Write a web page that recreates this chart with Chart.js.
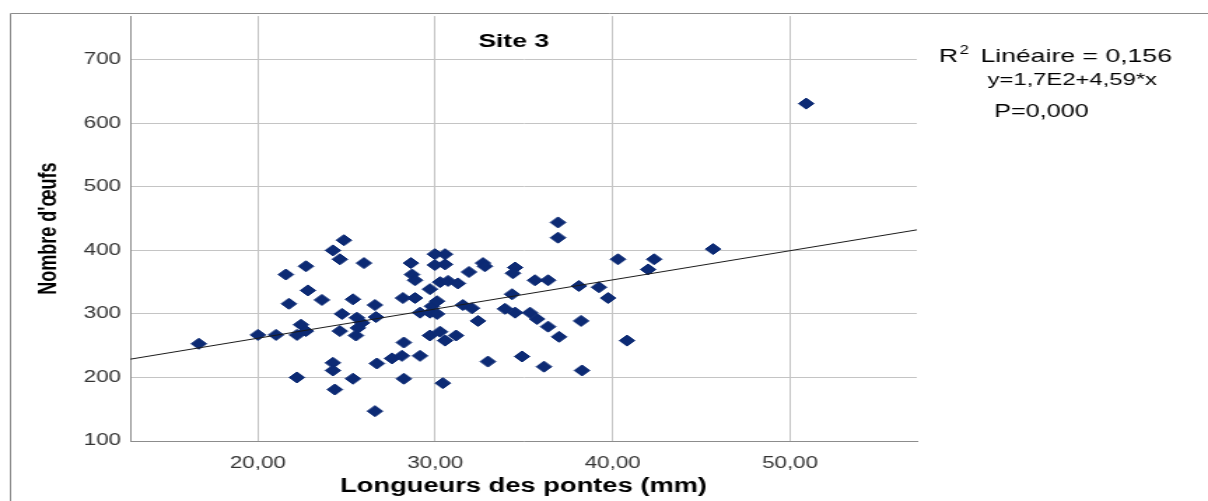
<!DOCTYPE html>
<html lang="fr">
<head>
    <meta charset="UTF-8">
    <title>Site 3</title>
    <script src="https://cdn.jsdelivr.net/npm/chart.js"></script>
    <style>
        html, body {
            margin: 0;
            padding: 0;
            background: #ffffff;
            overflow: hidden;
        }
        /* the plot is exported wide: draw at 863px and stretch to 1208px */
        #wrap {
            width: 863px;
            height: 501px;
            transform: scaleX(1.39977);
            transform-origin: 0 0;
        }
    </style>
</head>
<body>
    <div id="wrap">
        <canvas id="scatterChart" width="863" height="501"></canvas>
    </div>
<script>
    // longueur des pontes (mm) / nombre d'oeufs, site 3
    var longueurs = [
        16.67, 20.00, 21.02, 21.58, 21.75, 22.20, 22.20, 22.43, 22.71, 22.71,
        22.82, 23.61, 24.23, 24.62, 24.85, 25.98, 25.36, 26.60, 24.74, 25.58,
        25.87, 26.66, 24.62, 25.64, 25.53, 24.23, 24.23, 25.36, 24.34, 26.71,
        26.60, 28.23, 27.56, 28.12, 29.14, 28.23, 28.63, 28.69, 28.86, 28.18,
        28.86, 29.14, 29.70, 29.98, 30.55, 29.98, 30.55, 30.27, 30.72, 31.28,
        29.81, 30.10, 29.70, 30.10, 29.70, 30.27, 30.55, 31.17, 30.43, 31.90,
        32.69, 32.80, 34.50, 34.38, 31.56, 32.07, 32.41, 33.93, 34.50, 34.33,
        32.97, 34.89, 36.92, 36.92, 40.30, 35.62, 36.36, 38.10, 39.23, 39.74,
        35.34, 35.74, 36.36, 36.98, 38.22, 36.13, 38.27, 40.81, 42.34, 42.00,
        45.66, 50.91
    ];
    var oeufs = [
        253, 267, 267, 362, 316, 200, 267, 283, 273, 375,
        337, 322, 400, 386, 416, 380, 323, 314, 300, 294,
        286, 295, 273, 278, 266, 223, 211, 198, 181, 222,
        147, 255, 230, 234, 234, 198, 380, 362, 353, 325,
        325, 302, 339, 394, 394, 377, 378, 350, 352, 348,
        312, 320, 302, 300, 266, 272, 258, 266, 191, 366,
        380, 375, 373, 364, 314, 309, 289, 308, 302, 331,
        225, 233, 444, 420, 386, 353, 353, 344, 342, 325,
        302, 292, 280, 264, 289, 217, 211, 258, 386, 370,
        402, 631
    ];

    var xTicks = [20, 30, 40, 50];
    var yTicks = [100, 200, 300, 400, 500, 600, 700];
    var xMin = 12.8, xMax = 57.15;
    var yMin = 100, yMax = 768.75;

    // droite de regression : y = 1,7E2 + 4,59 * x
    var intercept = 170;
    var slope = 4.59;

    var titre = 'Site 3';
    var r2Text = ' Linéaire = 0,156';
    var equationText = 'y=1,7E2+4,59*x';
    var pText = 'P=0,000';

    var fontFamily = "'Liberation Sans', Arial, sans-serif";

    document.addEventListener('DOMContentLoaded', function () {
        generateScatter();
    });

    function generateScatter() {
        var points = longueurs.map(function (x, i) {
            return { x: x, y: oeufs[i] };
        });
        var fitLine = [
            { x: xMin, y: intercept + slope * xMin },
            { x: xMax, y: intercept + slope * xMax }
        ];

        var framePlugin = {
            id: 'framePlugin',
            beforeDraw: function (chart) {
                var ctx = chart.ctx;
                ctx.save();
                ctx.strokeStyle = '#8c8c8c';
                ctx.lineWidth = 1;
                ctx.beginPath();
                ctx.moveTo(7.5, chart.height);
                ctx.lineTo(7.5, 13.5);
                ctx.lineTo(chart.width, 13.5);
                ctx.stroke();
                ctx.restore();
            },
            afterDraw: function (chart) {
                var ctx = chart.ctx;
                ctx.save();
                ctx.fillStyle = '#000000';
                ctx.textBaseline = 'alphabetic';

                ctx.textAlign = 'center';
                ctx.font = 'bold 19px ' + fontFamily;
                ctx.fillText(titre, 367, 47);

                // R² line, superscript drawn separately
                ctx.textAlign = 'left';
                ctx.font = '19px ' + fontFamily;
                var wR = ctx.measureText('R').width;
                var wRest = ctx.measureText(r2Text).width;
                ctx.font = '12px ' + fontFamily;
                var wSup = ctx.measureText('2').width;
                var x0 = 754 - (wR + wSup + 4 + wRest) / 2;
                ctx.font = '19px ' + fontFamily;
                ctx.fillText('R', x0, 62);
                ctx.font = '12px ' + fontFamily;
                ctx.fillText('2', x0 + wR + 1, 54);
                ctx.font = '19px ' + fontFamily;
                ctx.fillText(r2Text, x0 + wR + wSup + 4, 62);

                ctx.textAlign = 'center';
                ctx.font = '17px ' + fontFamily;
                ctx.fillText(equationText, 766, 85);
                ctx.font = '18px ' + fontFamily;
                ctx.fillText(pText, 744, 117);
                ctx.restore();
            }
        };

        var ctx = document.getElementById('scatterChart').getContext('2d');
        Chart.defaults.font.family = fontFamily;
        Chart.defaults.color = '#333333';

        window.myChart = new Chart(ctx, {
            type: 'scatter',
            data: {
                datasets: [{
                    type: 'line',
                    label: 'Linéaire',
                    data: fitLine,
                    borderColor: '#1a1a1a',
                    borderWidth: 1,
                    pointRadius: 0,
                    fill: false,
                    order: 0
                }, {
                    label: "Nombre d'œufs",
                    data: points,
                    pointStyle: 'rectRot',
                    pointRadius: 5.5,
                    backgroundColor: '#0c2a74',
                    borderColor: '#0c2a74',
                    borderWidth: 1,
                    order: 1
                }]
            },
            options: {
                responsive: false,
                animation: false,
                devicePixelRatio: 1,
                events: [],
                layout: {
                    padding: { left: 0, right: 208, top: 13, bottom: 0 }
                },
                scales: {
                    x: {
                        type: 'linear',
                        min: xMin,
                        max: xMax,
                        afterBuildTicks: function (scale) {
                            scale.ticks = xTicks.map(function (v) { return { value: v }; });
                        },
                        afterFit: function (scale) {
                            scale.height = 60;
                        },
                        ticks: {
                            padding: 13,
                            font: { size: 16 },
                            callback: function (v) {
                                return v.toFixed(2).replace('.', ',');
                            }
                        },
                        grid: {
                            color: '#c4c4c4',
                            lineWidth: 1,
                            drawTicks: false
                        },
                        border: { color: '#8c8c8c', width: 1 },
                        title: {
                            display: true,
                            text: 'Longueurs des pontes (mm)',
                            color: '#000000',
                            font: { size: 19.5, weight: 'bold' },
                            padding: { top: 0, bottom: 3 }
                        }
                    },
                    y: {
                        min: yMin,
                        max: yMax,
                        afterBuildTicks: function (scale) {
                            scale.ticks = yTicks.map(function (v) { return { value: v }; });
                        },
                        afterFit: function (scale) {
                            scale.width = 93;
                        },
                        ticks: {
                            padding: 6.5,
                            font: { size: 16 },
                            callback: function (v) { return String(v); }
                        },
                        grid: {
                            color: '#c4c4c4',
                            lineWidth: 1,
                            drawTicks: false
                        },
                        border: { color: '#8c8c8c', width: 1 },
                        title: {
                            display: true,
                            text: "Nombre d'œufs",
                            color: '#000000',
                            font: { size: 18, weight: 'bold' },
                            padding: { top: 24, bottom: 0 }
                        }
                    }
                },
                plugins: {
                    legend: { display: false },
                    tooltip: { enabled: false }
                }
            },
            plugins: [framePlugin]
        });
    }
</script>
</body>
</html>
